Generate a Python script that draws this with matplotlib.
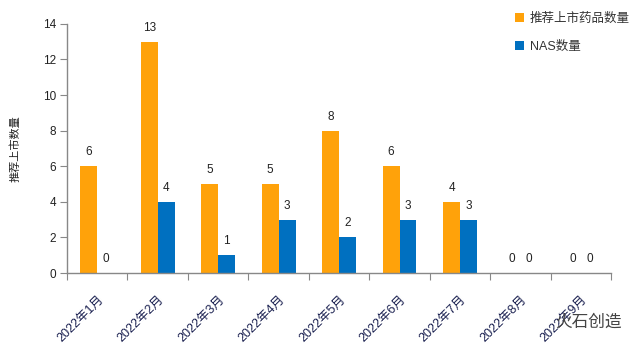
import matplotlib
matplotlib.use("Agg")
import matplotlib.pyplot as plt
import numpy as np

plt.rcParams['font.family'] = ['Liberation Sans', 'Noto Sans CJK SC', 'DejaVu Sans']

categories = ["2022年1月", "2022年2月", "2022年3月", "2022年4月", "2022年5月",
              "2022年6月", "2022年7月", "2022年8月", "2022年9月"]
drugs = [6, 13, 5, 5, 8, 6, 4, 0, 0]
nas = [0, 4, 1, 3, 2, 3, 3, 0, 0]
yticks = [0, 2, 4, 6, 8, 10, 12, 14]

orange = "#FFA20A"
blue = "#0070C0"

fig = plt.figure(figsize=(6.41, 3.51), dpi=100)
ax = fig.add_axes([0.1045, 0.222, 0.849, 0.71])

x = np.arange(len(categories))
w = 0.28
b1 = ax.bar(x - w/2, drugs, width=w, color=orange, label="推荐上市药品数量")
b2 = ax.bar(x + w/2, nas, width=w, color=blue, label="NAS数量")

for xi, v in zip(x - w/2, drugs):
    ax.text(xi, v + 0.45, str(v), ha='center', va='bottom', fontsize=8.5, color='#222222')
for xi, v in zip(x + w/2, nas):
    ax.text(xi, v + 0.45, str(v), ha='center', va='bottom', fontsize=8.5, color='#222222')

ax.set_xlim(-0.5, len(categories) - 0.5)
ax.set_ylim(0, 14)
ax.set_yticks(yticks)
ax.set_yticklabels([str(t) for t in yticks], fontsize=8.5, color='#222222')

ax.set_xticks(np.arange(len(categories) + 1) - 0.5)
ax.set_xticklabels([])
ax.set_xticks(x, minor=True)
ax.set_xticklabels(categories, minor=True, rotation=45, ha='right', va='top',
                   rotation_mode='anchor', fontsize=9, color='#1a2050')
ax.tick_params(axis='x', which='minor', length=0, pad=15)
ax.tick_params(axis='x', which='major', length=5, color='#888888', direction='out')
ax.tick_params(axis='y', length=5, color='#888888', direction='out', pad=3)

for s in ['top', 'right']:
    ax.spines[s].set_visible(False)
for s in ['left', 'bottom']:
    ax.spines[s].set_color('#888888')
    ax.spines[s].set_linewidth(1)

ax.set_ylabel("推荐上市数量", fontsize=8, color='#222222', labelpad=16)

leg = fig.legend(handles=[b1, b2], loc='upper left', bbox_to_anchor=(0.786, 0.995),
                 frameon=False, fontsize=9, handlelength=0.7, handleheight=0.7,
                 handletextpad=0.5, labelspacing=1.25, labelcolor='#333333')

fig.text(0.918, 0.082, "火石创造", fontsize=12, color='#444444', ha='center', va='center')

fig.savefig("out.png", dpi=100)
